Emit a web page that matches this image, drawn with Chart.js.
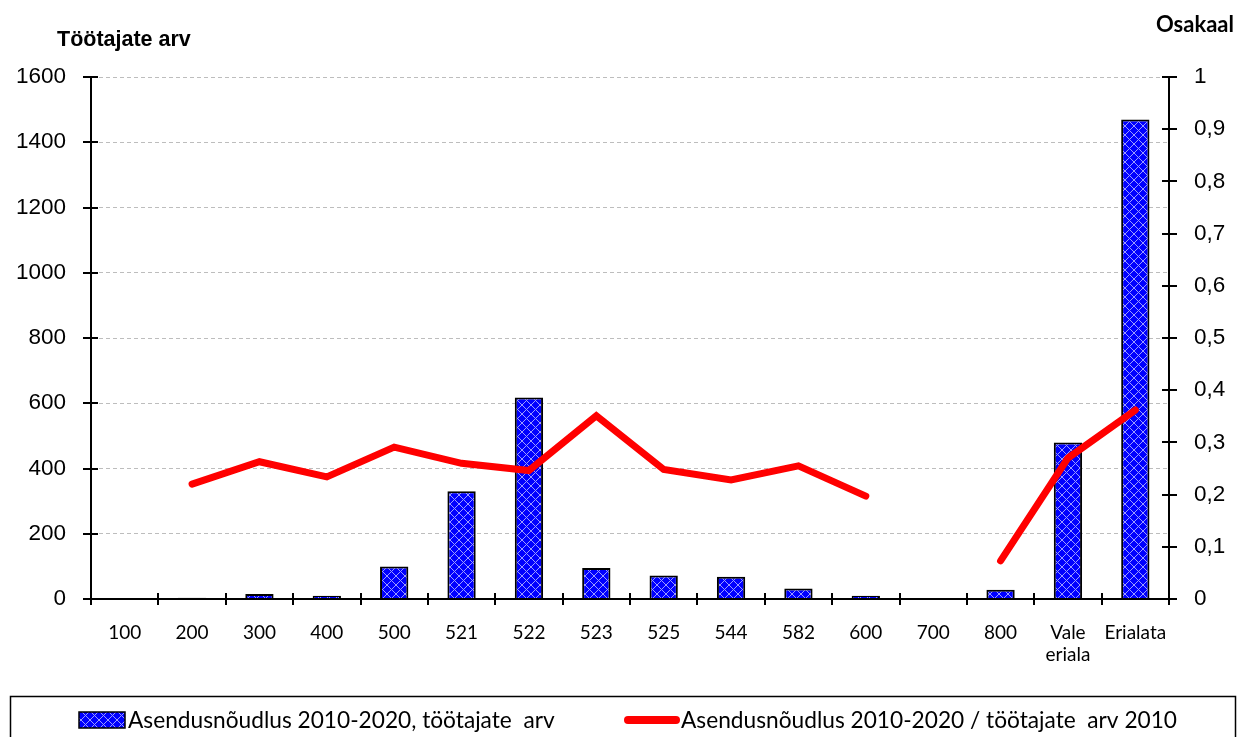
<!DOCTYPE html>
<html>
<head>
<meta charset="utf-8">
<script src="https://cdn.jsdelivr.net/npm/chart.js@4/dist/chart.umd.min.js"></script>
<style>
  html, body { margin: 0; padding: 0; background: #fff; }
  #wrap { width: 1237px; height: 737px; position: relative; }
</style>
</head>
<body>
<div id="wrap"><canvas id="c" width="1237" height="737"></canvas></div>
<script>
// ---- DATA ----
const categories = ['100', '200', '300', '400', '500', '521', '522', '523', '525', '544', '582', '600', '700', '800', ['Vale', 'eriala'], 'Erialata'];
const workers = [null, 4, 15, 10, 100, 330, 618, 95, 72, 68, 32, 10, null, 28, 480, 1470];
const share = [null, 0.220, 0.263, 0.234, 0.291, 0.260, 0.246, 0.351, 0.248, 0.228, 0.255, 0.197, null, 0.073, 0.270, 0.362];
const leftTitle = 'Töötajate arv';
const rightTitle = 'Osakaal';
const barLabel = 'Asendusnõudlus 2010-2020, töötajate  arv';
const lineLabel = 'Asendusnõudlus 2010-2020 / töötajate  arv 2010';

// ---- crosshatch pattern ----
function makePattern() {
  const p = document.createElement('canvas');
  p.width = 9; p.height = 9;
  const g = p.getContext('2d');
  g.fillStyle = '#0000ff';
  g.fillRect(0, 0, 9, 9);
  g.strokeStyle = '#9a9aff';
  g.lineWidth = 1;
  g.beginPath();
  g.moveTo(0, 0); g.lineTo(9, 9);
  g.moveTo(9, 0); g.lineTo(0, 9);
  g.stroke();
  const ctx = document.getElementById('c').getContext('2d');
  return ctx.createPattern(p, 'repeat');
}
const hatch = makePattern();

// ---- plugin: crossing tick marks ----
const crossTicks = {
  id: 'crossTicks',
  afterDatasetsDraw(chart) {
    const ctx = chart.ctx;
    const { y, y1, x } = chart.scales;
    ctx.save();
    ctx.strokeStyle = '#000';
    ctx.lineWidth = 2;
    ctx.beginPath();
    y.ticks.forEach((t, i) => {
      const p = Math.round(y.getPixelForTick(i));
      ctx.moveTo(y.right - 8, p); ctx.lineTo(y.right + 7, p);
    });
    y1.ticks.forEach((t, i) => {
      const p = Math.round(y1.getPixelForTick(i));
      ctx.moveTo(y1.left - 7, p); ctx.lineTo(y1.left + 8, p);
    });
    for (let i = 0; i <= categories.length; i++) {
      const p = Math.round(x.getPixelForValue(i - 0.5));
      ctx.moveTo(p, x.top - 6); ctx.lineTo(p, x.top + 6);
    }
    ctx.moveTo(x.left, x.top); ctx.lineTo(x.right, x.top);
    ctx.stroke();
    ctx.restore();
  }
};

// ---- plugin: titles and legend ----
const decorations = {
  id: 'decorations',
  afterDraw(chart) {
    const ctx = chart.ctx;
    ctx.save();
    ctx.fillStyle = '#000';
    ctx.textBaseline = 'alphabetic';
    ctx.font = 'bold 21.5px "Liberation Sans", Arial, sans-serif';
    ctx.textAlign = 'left';
    ctx.fillText(leftTitle, 57, 46);
    ctx.font = 'bold 22px Lato, sans-serif';
    ctx.textAlign = 'right';
    ctx.fillText(rightTitle, 1234, 32);

    // legend frame
    ctx.strokeStyle = '#000';
    ctx.lineWidth = 1.5;
    ctx.strokeRect(10.5, 696.5, 1225, 60);

    const ds = chart.data.datasets;
    const barDs = ds.find(d => d.type === 'bar');
    const lineDs = ds.find(d => d.type === 'line');
    ctx.fillStyle = hatch;
    ctx.fillRect(79, 712, 46, 16);
    ctx.lineWidth = 1.5;
    ctx.strokeRect(79, 712, 46, 16);
    ctx.fillStyle = '#000';
    ctx.font = '22.7px Lato, sans-serif';
    ctx.textAlign = 'left';
    ctx.textBaseline = 'middle';
    ctx.fillText(barDs.label, 128, 721);
    ctx.strokeStyle = '#ff0000';
    ctx.lineWidth = 8;
    ctx.lineCap = 'round';
    ctx.beginPath();
    ctx.moveTo(628, 720); ctx.lineTo(676, 720);
    ctx.stroke();
    ctx.fillText(lineDs.label, 681, 721);
    ctx.restore();
  }
};

new Chart(document.getElementById('c'), {
  data: {
    labels: categories,
    datasets: [
      {
        type: 'line',
        label: lineLabel,
        data: share,
        yAxisID: 'y1',
        borderColor: '#ff0000',
        backgroundColor: '#ff0000',
        borderWidth: 7,
        borderCapStyle: 'round',
        borderJoinStyle: 'miter',
        pointRadius: 0,
        pointHoverRadius: 0,
        tension: 0,
        spanGaps: false,
        order: 0
      },
      {
        type: 'bar',
        label: barLabel,
        data: workers,
        yAxisID: 'y',
        backgroundColor: hatch,
        borderColor: '#000',
        borderWidth: 2,
        categoryPercentage: 1,
        barPercentage: 0.42,
        order: 1
      }
    ]
  },
  options: {
    responsive: false,
    animation: false,
    devicePixelRatio: 1,
    layout: { padding: { top: 77, left: 0, right: 0, bottom: 0 } },
    plugins: {
      legend: { display: false },
      tooltip: { enabled: false },
      title: { display: false }
    },
    scales: {
      x: {
        type: 'category',
        offset: true,
        grid: { display: false, drawTicks: false },
        border: { display: false },
        ticks: {
          color: '#000',
          font: { family: 'Lato', size: 19 },
          padding: 22,
          maxRotation: 0,
          autoSkip: false
        },
        afterFit(s) { s.height = 138; }
      },
      y: {
        type: 'linear',
        position: 'left',
        min: 0,
        max: 1600,
        ticks: {
          stepSize: 200,
          color: '#000',
          font: { family: '"Liberation Sans", Arial', size: 22.5 },
          padding: 25,
          callback: v => String(v)
        },
        grid: {
          drawTicks: false,
          color: ctx => (ctx.tick && ctx.tick.value === 0) ? 'rgba(0,0,0,0)' : '#bdbdbd',
          lineWidth: 1
        },
        border: { display: true, color: '#000', width: 2, dash: [4, 3] },
        afterFit(s) { s.width = 91; }
      },
      y1: {
        type: 'linear',
        position: 'right',
        min: 0,
        max: 1,
        ticks: {
          stepSize: 0.1,
          color: '#000',
          font: { family: '"Liberation Sans", Arial', size: 22.5 },
          padding: 25,
          callback: v => String(Math.round(v * 10) / 10).replace('.', ',')
        },
        grid: { drawOnChartArea: false, drawTicks: false },
        border: { display: true, color: '#000', width: 2 },
        afterFit(s) { s.width = 68; }
      }
    }
  },
  plugins: [crossTicks, decorations]
});
</script>
</body>
</html>
